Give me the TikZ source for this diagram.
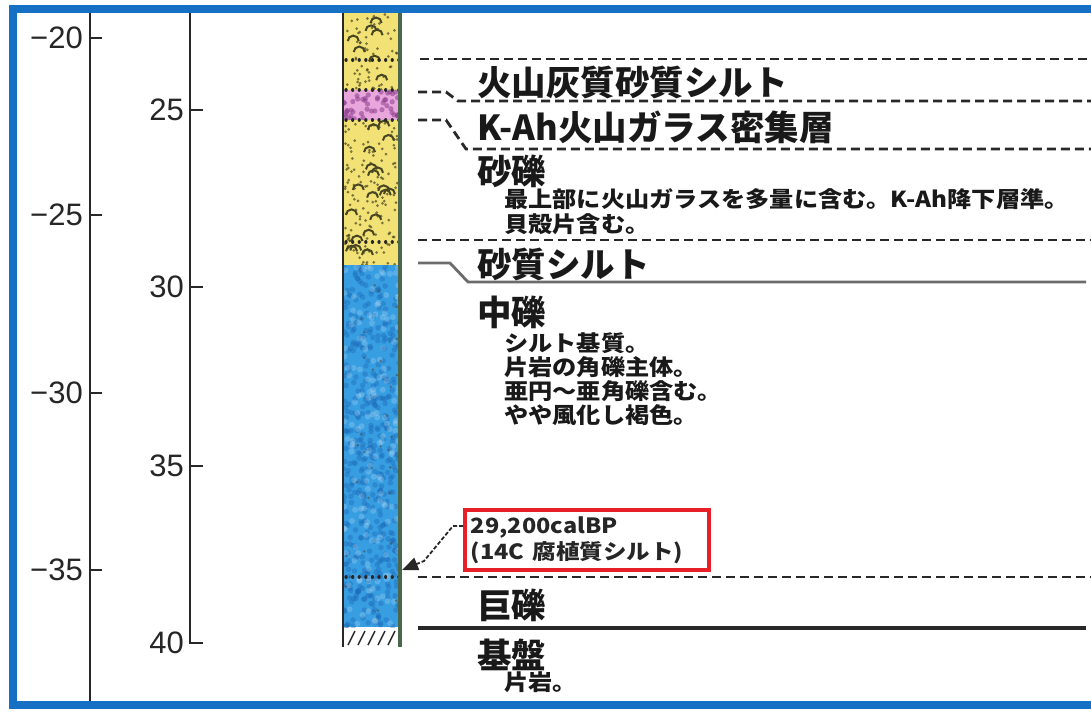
\documentclass[tikz,border=0pt]{standalone}
\usepackage{fontspec}
\setmainfont{Liberation Sans}
\newfontfamily\jp{Noto Sans CJK JP}
\usetikzlibrary{arrows.meta}

\definecolor{frameblue}{RGB}{22,112,196}
\definecolor{sandyellow}{RGB}{242,226,118}
\definecolor{ashpink}{RGB}{232,166,220}
\definecolor{gravelblue}{RGB}{56,158,226}
\definecolor{gravelshade}{RGB}{24,100,178}
\definecolor{grainolive}{RGB}{72,70,34}
\definecolor{ashpurple}{RGB}{140,62,140}
\definecolor{inkgray}{RGB}{40,40,40}
\definecolor{datered}{RGB}{232,30,40}

% horizontally stretched lettering
\newcommand\widetext[2]{\scalebox{#1}[1]{#2}}

\tikzset{
  axisline/.style={draw=inkgray, line width=2.4pt},
  axislabel/.style={anchor=east, inner sep=0pt, font=\fontsize{31}{31}\selectfont, text=black!85},
  boundary/.style={draw=inkgray, line width=2.8pt, dash pattern=on 9pt off 5pt},
  contact/.style={draw=inkgray, line width=2.8pt},
  unitname/.style={anchor=west, inner sep=0pt, font=\jp\bfseries\fontsize{34.5}{34.5}\selectfont, text=black!90},
  unitnote/.style={anchor=west, inner sep=0pt, font=\jp\bfseries\fontsize{22}{22}\selectfont, text=black!90},
  datebox/.style={draw=datered, line width=3.8pt, anchor=north west, minimum width=244pt,
    minimum height=60pt, text width=232pt, align=left, inner xsep=6pt, inner ysep=2pt,
    font=\jp\bfseries\fontsize{21}{26}\selectfont, text=black!85},
}

\begin{document}
\begin{tikzpicture}[x=1pt,y=-1pt]
\useasboundingbox (0,0) rectangle (1091,714);
\fill[white] (0,0) rectangle (1091,714);

% ---------- borehole column: layer fills ----------
\fill[sandyellow] (343,13) rectangle (400,90);
\fill[ashpink]    (343,90) rectangle (400,120);
\fill[sandyellow] (343,120) rectangle (400,265);
\fill[gravelblue] (343,265) rectangle (400,627);

\pgfmathsetseed{23}
% sand and gravel: dots and small arcs
\begin{scope}
  \clip (343,13) rectangle (400,90) (343,120) rectangle (400,265);
  \foreach \i in {1,...,230} {
    \pgfmathsetmacro\px{345+rnd*53}
    \pgfmathsetmacro\py{14+rnd*252}
    \fill[grainolive, opacity=0.7] (\px,\py) circle (1.5pt);
  }
  \foreach \i in {1,...,26} {
    \pgfmathsetmacro\px{356+rnd*40}
    \pgfmathsetmacro\py{20+rnd*244}
    \draw[grainolive, line width=2pt] (\px,\py) arc[start angle=0, end angle=180, radius=5.5pt];
  }
\end{scope}
% volcanic glass layer: purple blobs
\begin{scope}
  \clip (343,90) rectangle (400,120);
  \foreach \i in {1,...,45} {
    \pgfmathsetmacro\px{344+rnd*55}
    \pgfmathsetmacro\py{91+rnd*29}
    \fill[ashpurple, opacity=0.55] (\px,\py) circle (2.6pt);
  }
\end{scope}
% medium gravel: mottled blue
\begin{scope}
  \clip (343,265) rectangle (400,627);
  \foreach \i in {1,...,420} {
    \pgfmathsetmacro\px{343+rnd*57}
    \pgfmathsetmacro\py{265+rnd*362}
    \fill[gravelshade, opacity=0.35] (\px,\py) circle (2.8pt);
  }
  \foreach \i in {1,...,160} {
    \pgfmathsetmacro\px{343+rnd*57}
    \pgfmathsetmacro\py{265+rnd*362}
    \fill[white, opacity=0.18] (\px,\py) circle (3pt);
  }
  \foreach \i in {1,...,30} {
    \pgfmathsetmacro\px{345+rnd*53}
    \pgfmathsetmacro\py{268+rnd*356}
    \fill[black!70, opacity=0.6] (\px,\py) circle (1.4pt);
  }
\end{scope}

% dotted layer boundaries inside the column
\foreach \yy in {60,90,120,242,577}
  \draw[black!85, line width=3.2pt, line cap=round, dash pattern=on 0.1pt off 6.5pt] (346,\yy) -- (399,\yy);

% bedrock hatching at the base
\foreach \xx in {348,358,368,378,388}
  \draw[inkgray, line width=1.5pt] (\xx,645) -- (\xx+7,631);

% column sides
\draw[inkgray, line width=1.6pt] (343,13) -- (343,647);
\draw[black!75!green!40!gray, line width=3.2pt] (400,13) -- (400,647);

% ---------- elevation axis ----------
\draw[axisline] (90,13) -- (90,702);
\foreach \yy/\lab in {38/{−20},215/{−25},393/{−30},570/{−35}} {
  \draw[axisline] (90,\yy) -- (102,\yy);
  \node[axislabel] at (83,\yy) {\lab};
}

% ---------- depth axis ----------
\draw[axisline] (190,13) -- (190,643) -- (203,643);
\foreach \yy in {110,287,466}
  \draw[axisline] (190,\yy) -- (203,\yy);
\foreach \yy/\lab in {110/25,287/30,466/35,643/40}
  \node[axislabel] at (184,\yy) {\lab};

% ---------- layer boundaries ----------
\draw[boundary] (420,59) -- (1095,59);
\draw[boundary] (418,92) -- (446,92) -- (458,101) -- (1095,101);
\draw[boundary] (418,120) -- (446,120) -- (466,149) -- (1095,149);
\draw[boundary] (418,240) -- (1095,240);
\draw[contact, draw=gray!85!black] (418,263) -- (450,263) -- (468,282) -- (1086,282);
\draw[boundary] (418,577) -- (1095,577);
\draw[contact, line width=3.2pt] (418,628) -- (1086,628);

% ---------- unit names and descriptions ----------
\node[unitname] (u1) at (477,82)  {火山灰質砂質シルト};
\node[unitname] (u2) at (477,127) {K-Ah火山ガラス密集層};
\node[unitname] (u3) at (477,171) {砂礫};
\node[unitnote] (n3a) at (504,199) {\widetext{1.1}{最上部に火山ガラスを多量に含む。K-Ah降下層準。}};
\node[unitnote] (n3b) at (504,224) {\widetext{1.1}{貝殻片含む。}};
\node[unitname] (u4) at (477,264) {砂質シルト};
\node[unitname] (u5) at (477,312) {中礫};
\node[unitnote] (n5a) at (504,343) {\widetext{1.1}{シルト基質。}};
\node[unitnote] (n5b) at (504,367) {\widetext{1.1}{片岩の角礫主体。}};
\node[unitnote] (n5c) at (504,391) {\widetext{1.1}{亜円～亜角礫含む。}};
\node[unitnote] (n5d) at (504,415) {\widetext{1.1}{やや風化し褐色。}};
\node[unitname] (u6) at (477,605) {巨礫};
\node[unitname] (u7) at (477,655) {基盤};
\node[unitnote] (n7a) at (504,682) {\widetext{1.1}{片岩。}};

% ---------- radiocarbon date ----------
\node[datebox] (date) at (463,508) {\widetext{1.12}{29,200calBP}\\\widetext{1.12}{(14C 腐植質シルト)}};
\coordinate (bend1) at (453,526);
\coordinate (bend2) at (424,561);
\coordinate (sample) at (402,570);
\draw[inkgray, line width=1.8pt, dash pattern=on 4pt off 2pt, -{Triangle[length=16pt,width=13pt]}]
  (date.west |- bend1) -- (bend1) -- (bend2) -- (sample);

% ---------- panel frame ----------
\draw[frameblue, line width=8pt] (1095,9) -- (12.5,9) -- (12.5,705) -- (1095,705);
\end{tikzpicture}
\end{document}
